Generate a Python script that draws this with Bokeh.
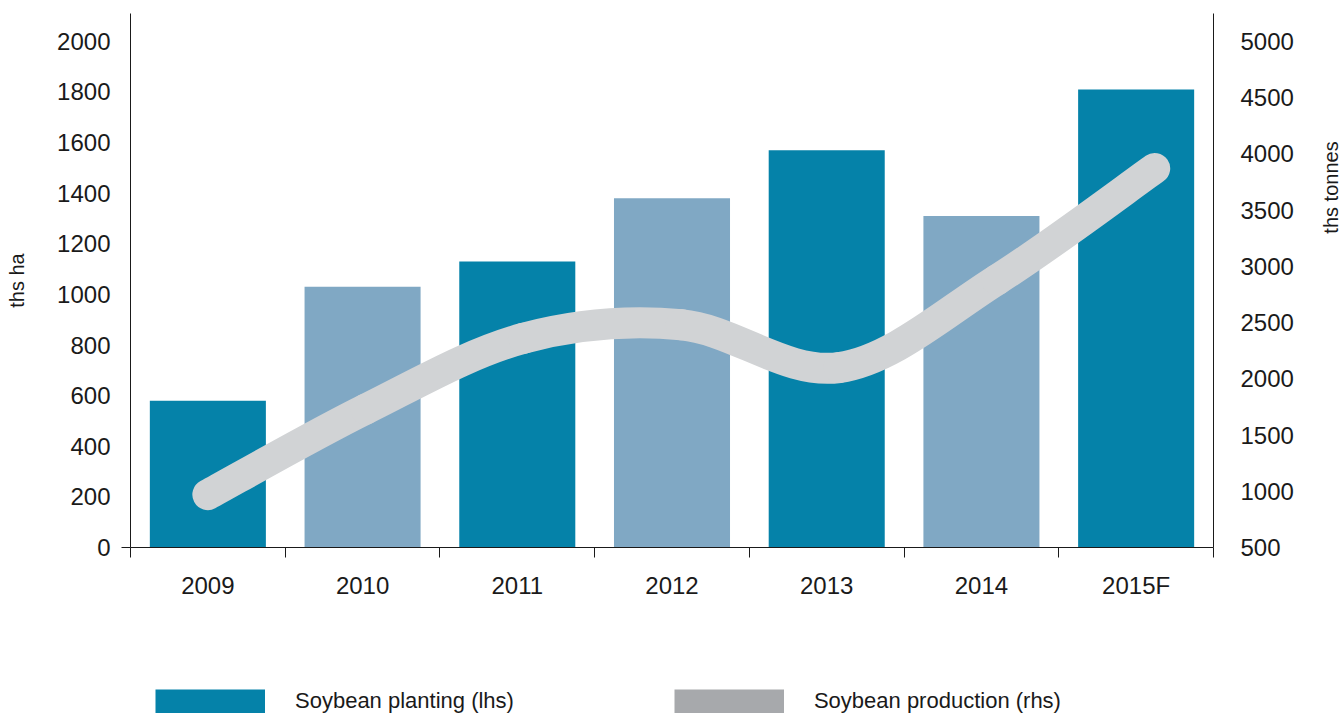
import numpy as np
from bokeh.plotting import figure
from bokeh.layouts import row, column
from bokeh.models import Range1d, LinearAxis, FixedTicker, Legend, LegendItem, ColumnDataSource, Label
from bokeh.embed import file_html
from bokeh.resources import INLINE

# ---------------- data ----------------
years = ["2009", "2010", "2011", "2012", "2013", "2014", "2015F"]
planting = [580, 1030, 1130, 1380, 1570, 1310, 1810]      # ths ha (lhs)
production = [970, 1730, 2360, 2480, 2100, 2880, 3870]    # ths tonnes (rhs)
left_ticks = [0, 200, 400, 600, 800, 1000, 1200, 1400, 1600, 1800, 2000]
right_ticks = [500, 1000, 1500, 2000, 2500, 3000, 3500, 4000, 4500, 5000]
series_names = ["Soybean planting (lhs)", "Soybean production (rhs)"]
left_title = "ths ha"
right_title = "ths tonnes"

# ---------------- style ----------------
DARK = "#0582A9"
LIGHT = "#80A8C4"
LINE = "#D1D3D5"
LEG_GRAY = "#A7A9AC"
TXT = "#1a1a1a"
FONT = "Liberation Sans"
TICK_FS = "24px"

W_MAIN, W_STRIP, H_MAIN, H_LEG = 1313, 30, 640, 74

n = len(years)
xc = np.arange(n) + 0.5
LEFT_MAX = 2110
RIGHT_MIN = right_ticks[0]
RIGHT_MAX = RIGHT_MIN + LEFT_MAX * (right_ticks[-1] - right_ticks[0]) / (left_ticks[-1] - left_ticks[0])

p = figure(width=W_MAIN, height=H_MAIN, x_range=Range1d(0, n), y_range=Range1d(0, LEFT_MAX),
           output_backend="svg", toolbar_location=None,
           min_border_left=130, min_border_right=W_MAIN - 1213, min_border_top=13,
           min_border_bottom=H_MAIN - 547)
p.extra_y_ranges = {"right": Range1d(RIGHT_MIN, RIGHT_MAX)}
p.outline_line_color = None
p.grid.visible = False
p.background_fill_color = "white"
p.border_fill_color = "white"

# bars (alternating colours)
dark_idx = [i for i in range(n) if i % 2 == 0]
light_idx = [i for i in range(n) if i % 2 == 1]
src_dark = ColumnDataSource(dict(x=[xc[i] for i in dark_idx], top=[planting[i] for i in dark_idx]))
src_light = ColumnDataSource(dict(x=[xc[i] for i in light_idx], top=[planting[i] for i in light_idx]))
p.vbar(x="x", top="top", width=0.75, source=src_dark, fill_color=DARK, line_color=None)
p.vbar(x="x", top="top", width=0.75, source=src_light, fill_color=LIGHT, line_color=None)

# smoothed production line (bezier segments through the data points)
xl = 0.5 + np.arange(n) * 1.02
yl = np.array(production, dtype=float)
src_pts = ColumnDataSource(dict(x=xl, y=yl))
x0, y0, x1, y1, cx0, cy0, cx1, cy1 = [], [], [], [], [], [], [], []
for i in range(n - 1):
    ip = max(i - 1, 0)
    inx = min(i + 2, n - 1)
    x0.append(xl[i]); y0.append(yl[i]); x1.append(xl[i + 1]); y1.append(yl[i + 1])
    cx0.append(xl[i] + (xl[i + 1] - xl[ip]) / 6.0)
    cy0.append(yl[i] + (yl[i + 1] - yl[ip]) / 6.0)
    cx1.append(xl[i + 1] - (xl[inx] - xl[i]) / 6.0)
    cy1.append(yl[i + 1] - (yl[inx] - yl[i]) / 6.0)
src_line = ColumnDataSource(dict(x0=x0, y0=y0, x1=x1, y1=y1, cx0=cx0, cy0=cy0, cx1=cx1, cy1=cy1))
p.bezier(x0="x0", y0="y0", x1="x1", y1="y1", cx0="cx0", cy0="cy0", cx1="cx1", cy1="cy1",
         source=src_line, line_color=LINE, line_width=31, line_cap="round", y_range_name="right")

# ---------------- axes ----------------
xa = p.xaxis[0]
xa.ticker = FixedTicker(ticks=[float(v) for v in xc], minor_ticks=list(range(n + 1)))
xa.major_label_overrides = {float(v): years[i] for i, v in enumerate(xc)}
xa.major_tick_line_color = None
xa.major_tick_out = 0
xa.major_tick_in = 0
xa.minor_tick_out = 10
xa.minor_tick_in = 0
xa.minor_tick_line_color = TXT
xa.axis_line_color = TXT
xa.major_label_standoff = 14
xa.major_label_text_font = FONT
xa.major_label_text_font_size = TICK_FS
xa.major_label_text_color = TXT

ya = p.yaxis[0]
ya.ticker = FixedTicker(ticks=left_ticks, minor_ticks=[0])
ya.major_tick_line_color = None
ya.major_tick_out = 0
ya.major_tick_in = 0
ya.minor_tick_out = 9
ya.minor_tick_in = 0
ya.minor_tick_line_color = TXT
ya.axis_line_color = TXT
ya.major_label_standoff = 11
ya.major_label_text_font = FONT
ya.major_label_text_font_size = TICK_FS
ya.major_label_text_color = TXT
ya.axis_label = left_title
ya.axis_label_text_font = FONT
ya.axis_label_text_font_size = "20px"
ya.axis_label_text_font_style = "normal"
ya.axis_label_text_color = TXT
ya.axis_label_standoff = 26

ra = LinearAxis(y_range_name="right", ticker=FixedTicker(ticks=right_ticks))
ra.major_tick_line_color = None
ra.major_tick_out = 0
ra.major_tick_in = 0
ra.minor_tick_line_color = None
ra.axis_line_color = TXT
ra.major_label_standoff = 27
ra.major_label_text_font = FONT
ra.major_label_text_font_size = TICK_FS
ra.major_label_text_color = TXT
p.add_layout(ra, "right")

# ---------------- right axis title strip (reads bottom-to-top) ----------------
s = figure(width=W_STRIP, height=H_MAIN, x_range=Range1d(0, 1), y_range=Range1d(0, 1),
           x_axis_type=None, y_axis_type=None, output_backend="svg", toolbar_location=None,
           min_border=0)
s.outline_line_color = None
s.grid.visible = False
s.add_layout(Label(x=17, y=H_MAIN - 280, x_units="screen", y_units="screen", text=right_title,
                   angle=np.pi / 2, text_align="center", text_baseline="middle",
                   text_font=FONT, text_font_size="20px", text_color=TXT))

# ---------------- legend strip ----------------
# proxy renderers use the real series, but this strip's ranges keep them out of view;
# only their legend swatches are shown.
lg = figure(width=W_MAIN + W_STRIP, height=H_LEG, x_range=Range1d(-20, -19), y_range=Range1d(-20, -19),
            x_axis_type=None, y_axis_type=None, output_backend="svg", toolbar_location=None,
            min_border=0)
lg.outline_line_color = None
lg.grid.visible = False
r_dark = lg.line(x="x", y="top", source=src_dark, line_color=DARK, line_width=24, line_cap="butt")
r_gray = lg.line(x="x", y="y", source=src_pts, line_color=LEG_GRAY, line_width=24, line_cap="butt")
legend = Legend(items=[LegendItem(label=series_names[0], renderers=[r_dark]),
                       LegendItem(label=series_names[1], renderers=[r_gray])],
                location=(155, 0), orientation="horizontal",
                glyph_width=110, glyph_height=24, label_height=24, label_standoff=30, spacing=160,
                padding=0, margin=0, border_line_color=None, background_fill_alpha=0,
                label_text_font=FONT, label_text_font_size="22px", label_text_color=TXT)
lg.add_layout(legend, "center")

layout = column(row(p, s), lg)
open("out.html", "w").write(file_html(layout, INLINE))
